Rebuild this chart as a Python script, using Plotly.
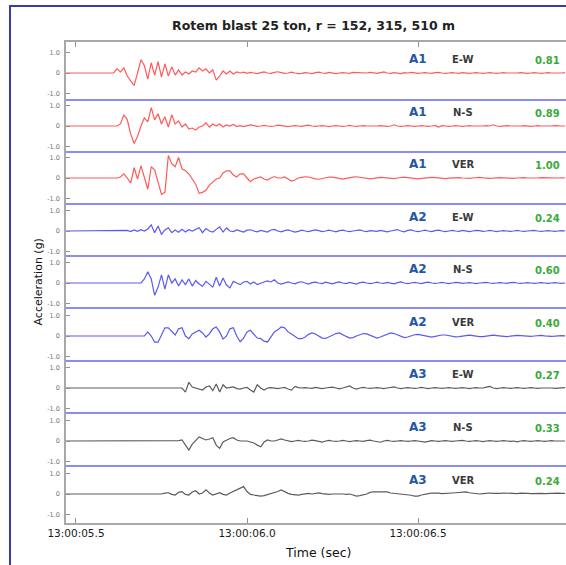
import plotly.graph_objects as go

# ---------------- data ----------------
t_start = 5.47
t_step = 0.01
n_samples = 147
sample_times = [round(t_start + t_step * i, 2) for i in range(n_samples)]

stations = ["A1", "A1", "A1", "A2", "A2", "A2", "A3", "A3", "A3"]
components = ["E-W", "N-S", "VER", "E-W", "N-S", "VER", "E-W", "N-S", "VER"]
peak_values = ["0.81", "0.89", "1.00", "0.24", "0.60", "0.40", "0.27", "0.33", "0.24"]
title_text = "Rotem blast 25 ton, r = 152, 315, 510 m"
y_tick_vals = [-1, 0, 1]
y_tick_text = ["-1.0", "0", "1.0"]

A1_EW = [0, 0, 0, 0, 0, 0, 0, 0, 0, 0, 0, 0, 0, 0, 0,
         0.2, 0.05, 0.25, -0.15, -0.4, -0.6, 0.0, 0.65, 0.35, -0.3, 0.5, -0.1, 0.55, -0.2, 0.45,
         -0.15, 0.3, -0.1, 0.15, -0.1, 0.05, -0.05, 0.1, 0.05, 0.25, 0.1, 0.2, 0.0, 0.15, -0.35,
         -0.15, 0.1, -0.05, 0.1, -0.05, 0.05,
         0.0, 0.04, -0.02, 0.03, 0.0, -0.03, 0.02, 0.05, 0.0, -0.02,
         0.03, 0.06, 0.02, -0.02, 0.0, 0.04, 0.0, -0.03, -0.02, 0.02,
         0.0, -0.03, 0.02, 0.04, 0.0, -0.02, 0.03, 0.0, -0.03, 0.0,
         0.02, 0.0, -0.02, 0.03, 0.02, 0.0, -0.02, 0.0, 0.03, 0.0,
         -0.02, 0.02, 0.05, 0.0, -0.02, 0.02, 0.0, -0.03, 0.02, 0.0,
         0.03, 0.0, -0.02, 0.0, 0.02, 0.0, -0.02, 0.02, 0.03, 0.0,
         -0.02, 0.0, 0.02, 0.0, -0.02, 0.02, 0.0, -0.02, 0.0, 0.02,
         0.0, -0.02, 0.0, 0.02, 0.0, -0.02, 0.0, 0.02, 0.0, 0.0,
         -0.02, 0.0, 0.02, 0.0, -0.02, 0.0, 0.02, 0.0, -0.02, 0.0,
         0.02, 0.0, 0.0, -0.02, 0.0, 0.02]

A1_NS = [0, 0, 0, 0, 0, 0, 0, 0, 0, 0, 0, 0, 0, 0, 0, 0,
         0.1, 0.55, 0.3, -0.4, -0.85, -0.5, 0.0, 0.4, 0.2, 0.9, 0.3, 0.6, 0.1, 0.45, -0.05,
         0.55, 0.1, 0.25, -0.05, 0.1, -0.15, -0.1, -0.2, -0.05, 0.0, 0.15, -0.05, 0.1, 0.0,
         0.1, -0.05, 0.05, 0.0, 0.08, -0.03,
         0.02, -0.03, 0.0, 0.05, 0.02, -0.02, 0.0, 0.03, 0.0, -0.02,
         0.0, 0.04, 0.02, 0.0, -0.03, 0.0, 0.02, 0.0, -0.02, 0.02,
         0.04, 0.0, -0.02, 0.0, 0.02, 0.0, -0.03, 0.0, 0.02, 0.0,
         -0.02, 0.0, 0.03, 0.0, -0.02, 0.0, 0.02, 0.0, 0.0, -0.02,
         0.0, 0.02, 0.0, -0.02, 0.0, 0.06, 0.0, -0.02, 0.0, 0.02,
         0.0, -0.02, 0.0, 0.02, 0.0, -0.02, 0.0, 0.03, -0.05, 0.02,
         0.0, -0.02, 0.0, 0.02, 0.0, -0.02, 0.0, 0.02, 0.0, 0.0,
         -0.02, 0.0, 0.02, 0.0, 0.06, 0.0, -0.02, 0.0, 0.02, 0.0,
         0.0, -0.02, 0.0, 0.02, 0.0, -0.02, 0.0, 0.02, 0.0, 0.0,
         -0.02, 0.0, 0.02, 0.0, 0.0, 0.0]

A1_VER = [0, 0, 0, 0, 0, 0, 0, 0, 0, 0, 0, 0, 0, 0, 0, 0,
          0.05, 0.2, 0.0, -0.25, 0.5, -0.05, 0.6, 0.0, -0.55, 0.55, 0.4, -0.2, -0.8, -0.7,
          1.1, 0.7, 0.55, 1.0, 0.45, 0.35, 0.2, -0.05, -0.3, -0.75, -0.7, -0.6, -0.35, -0.2,
          -0.05, 0.0, 0.25, 0.35, 0.35, 0.15, 0.05, 0.2, 0.2, 0.0, -0.18, -0.05, 0.0, 0.05,
          -0.05, -0.1, 0.0, 0.07, 0.0, 0.0, 0.05, -0.05, -0.15, -0.1, 0.0,
          0.03, 0.06, 0.05, 0.0, -0.04, -0.06, -0.03, 0.02, 0.05, 0.04,
          0.0, -0.03, -0.05, -0.02, 0.02, 0.04, 0.06, 0.03, 0.0, -0.03,
          -0.04, -0.02, 0.01, 0.03, 0.02, 0.0, -0.02, -0.03, 0.0, 0.03,
          0.04, 0.02, 0.0, -0.02, -0.04, -0.02, 0.0, 0.02, 0.03, 0.02,
          0.0, -0.02, -0.03, -0.01, 0.01, 0.02, 0.02, 0.0, -0.02, -0.02,
          0.0, 0.02, 0.03, 0.01, -0.01, -0.02, -0.01, 0.01, 0.02, 0.01,
          0.0, -0.02, -0.02, 0.0, 0.02, 0.02, 0.0, -0.01, -0.02, 0.0,
          0.02, 0.01, 0.0, -0.01, -0.01, 0.0, 0.01, 0.0]

A2_EW = [0, 0, 0, 0, 0, 0, 0, 0, 0, 0, 0, 0, 0, 0, 0, 0, 0, 0,
         0.03, -0.03, 0.05, -0.02, 0.06, 0.0, 0.1, 0.3, -0.08, 0.24, -0.16, 0.05, 0.16,
         -0.08, 0.05, -0.06, 0.08, -0.05, 0.06, 0.0, 0.1, 0.16, -0.08, 0.12, 0.0, -0.05,
         0.08, 0.2, -0.05, 0.15, 0.0, -0.03, 0.05,
         0.0, -0.05, 0.04, 0.06, 0.0, -0.04, 0.03, 0.0, -0.05, 0.05,
         0.08, 0.0, -0.04, 0.02, 0.05, 0.0, -0.05, -0.02, 0.04, 0.0,
         -0.03, 0.02, 0.05, 0.02, -0.03, 0.0, 0.04, 0.0, -0.04, 0.02,
         0.04, 0.0, -0.03, 0.0, 0.03, 0.05, 0.0, -0.03, 0.02, 0.0,
         -0.02, 0.03, 0.0, -0.04, 0.0, 0.05, 0.07, 0.0, -0.04, 0.03,
         0.05, 0.0, -0.03, 0.0, 0.04, 0.0, -0.03, 0.02, 0.04, 0.0,
         -0.03, 0.0, 0.03, 0.0, -0.02, 0.03, 0.0, -0.03, 0.0, 0.03,
         0.02, -0.02, 0.0, 0.03, 0.0, -0.03, 0.0, 0.02, 0.0, -0.02,
         0.0, 0.03, 0.0, -0.02, 0.0, 0.02, 0.03, 0.0, -0.02, 0.0,
         0.02, 0.0, -0.02, 0.0, 0.02, 0.0]

A2_NS = [0, 0, 0, 0, 0, 0, 0, 0, 0, 0, 0, 0, 0, 0, 0, 0, 0, 0, 0, 0, 0, 0,
         0.0, 0.2, 0.55, 0.2, -0.6, -0.2, 0.4, -0.3, 0.4, 0.0, 0.2, -0.15, 0.15, -0.08,
         0.2, -0.15, 0.12, -0.05, -0.16, 0.08, -0.05, -0.2, 0.28, -0.15, 0.24, -0.1, -0.24,
         0.08, 0.0, -0.08, 0.05, 0.08, -0.05, 0.05, -0.08, 0.0, 0.05, 0.1, 0.05, 0.16, 0.0, -0.05,
         0.02, 0.05, 0.0, -0.04, 0.03, 0.06, 0.0, -0.05, 0.02, 0.04,
         0.0, -0.03, 0.04, 0.0, -0.04, 0.02, 0.05, 0.0, -0.03, 0.03,
         0.0, -0.05, 0.02, 0.04, 0.0, -0.03, 0.0, 0.04, 0.0, -0.02,
         0.03, 0.0, -0.04, 0.02, 0.05, 0.0, -0.03, 0.0, 0.03, 0.0,
         -0.03, 0.02, 0.04, 0.0, -0.02, 0.0, 0.03, 0.0, -0.03, 0.0,
         0.03, 0.02, -0.02, 0.0, 0.02, 0.0, -0.03, 0.0, 0.02, 0.03,
         0.0, -0.02, 0.0, 0.02, 0.0, -0.02, 0.02, 0.03, 0.0, -0.02,
         0.0, 0.02, 0.0, -0.02, 0.0, 0.02, 0.0, -0.02, 0.0, 0.02,
         0.0, -0.02, 0.0]

A2_VER = [0, 0, 0, 0, 0, 0, 0, 0, 0, 0, 0, 0, 0, 0, 0, 0, 0, 0, 0, 0, 0, 0, 0,
          0.0, 0.2, 0.0, -0.3, -0.3, 0.05, 0.4, 0.4, 0.2, 0.05, 0.35, 0.4, 0.0, -0.13,
          0.1, 0.2, 0.28, 0.15, -0.05, 0.1, 0.35, 0.44, 0.2, -0.15, 0.0, 0.35, 0.4, 0.0,
          -0.28, -0.1, 0.2, 0.28, 0.1, -0.1, -0.13, -0.25, -0.29, -0.05, 0.2, 0.3, 0.44,
          0.4, 0.2, 0.1, 0.0, -0.13, -0.13, -0.05,
          0.08, 0.15, 0.1, 0.0, -0.1, -0.12, -0.05, 0.05, 0.12, 0.15,
          0.08, -0.02, -0.1, -0.08, 0.0, 0.08, 0.12, 0.1, 0.02, -0.06,
          -0.1, -0.05, 0.03, 0.1, 0.15, 0.12, 0.04, -0.04, -0.08, -0.05,
          0.02, 0.06, 0.08, 0.04, 0.0, -0.04, -0.05, -0.02, 0.02, 0.05,
          0.05, 0.02, -0.02, -0.04, -0.03, 0.0, 0.03, 0.04, 0.02, -0.01,
          -0.03, -0.03, 0.0, 0.03, 0.04, 0.02, 0.0, -0.02, -0.03, -0.01,
          0.02, 0.03, 0.02, 0.0, -0.02, -0.02, 0.0, 0.02, 0.03, 0.01,
          -0.01, -0.02, -0.01, 0.01, 0.02, 0.01]

A3_EW = [0, 0, 0, 0, 0, 0, 0, 0, 0, 0, 0, 0, 0, 0, 0, 0, 0, 0, 0, 0,
         0, 0, 0, 0, 0, 0, 0, 0, 0, 0, 0, 0, 0, 0,
         0.0, -0.2, 0.28, 0.05, 0.0, -0.05, -0.1, 0.05, 0.1, -0.13, 0.2, -0.2, 0.16, 0.0,
         0.03, 0.05, -0.03, -0.05, 0.0, 0.03, -0.1, -0.2, 0.16, 0.0, -0.1, 0.0, 0.02,
         0.0, -0.03, 0.0, 0.03, -0.05, -0.1, 0.08, 0.02, 0.0, 0.02,
         0.0, -0.02, 0.03, 0.0, -0.03, 0.0, 0.02, 0.04, 0.0, -0.04,
         0.0, 0.05, 0.1, 0.0, -0.05, 0.0, 0.03, 0.0, -0.02, 0.0,
         0.02, 0.0, -0.03, 0.0, 0.03, 0.05, 0.0, -0.03, 0.0, 0.02,
         0.0, -0.02, 0.0, 0.03, 0.0, -0.03, 0.0, 0.02, 0.0, -0.02,
         0.0, 0.02, 0.0, -0.02, 0.0, 0.02, 0.0, -0.03, 0.0, 0.02,
         0.0, 0.0, 0.04, 0.08, 0.0, -0.03, 0.0, 0.02, 0.0, -0.02,
         0.0, 0.02, 0.0, -0.02, 0.0, 0.02, 0.0, -0.02, 0.0, 0.0,
         0.02, 0.0, -0.02, 0.0, 0.0, 0.02]

A3_NS = [0, 0, 0, 0, 0, 0, 0, 0, 0, 0, 0, 0, 0, 0, 0, 0, 0, 0, 0, 0,
         0, 0, 0, 0, 0, 0, 0, 0, 0, 0, 0, 0,
         0.0, 0.02, 0.05, -0.2, -0.44, -0.15, 0.05, 0.2, 0.12, 0.05, 0.1, 0.16, -0.2, -0.36,
         -0.05, 0.05, 0.12, 0.16, 0.05, 0.0, 0.0, 0.0, -0.05, -0.1, -0.2, -0.28, -0.05, 0.05,
         0.0, 0.0, 0.05, 0.1, 0.05,
         0.0, -0.03, 0.0, 0.03, 0.0, -0.02, 0.0, 0.04, 0.02, -0.02,
         -0.05, 0.0, 0.03, 0.0, -0.02, 0.0, 0.03, 0.0, -0.03, 0.0,
         0.02, 0.0, -0.02, 0.02, 0.04, 0.0, -0.03, -0.06, 0.0, 0.03,
         0.0, -0.02, 0.0, 0.02, 0.0, -0.02, 0.0, 0.02, 0.0, -0.02,
         -0.05, -0.02, 0.02, 0.0, -0.02, 0.0, 0.02, 0.0, -0.02, 0.0,
         0.02, 0.03, 0.0, -0.02, 0.0, 0.02, 0.0, -0.03, 0.0, 0.02,
         0.0, -0.02, 0.0, 0.02, 0.0, -0.02, 0.0, -0.04, 0.0, 0.02,
         0.0, -0.02, 0.0, 0.02, 0.0, -0.02, 0.0, 0.02, 0.0, 0.0,
         -0.02, 0.0]

A3_VER = [0, 0, 0, 0, 0, 0, 0, 0, 0, 0, 0, 0, 0, 0, 0, 0, 0, 0, 0, 0,
          0, 0, 0, 0, 0, 0, 0, 0,
          0.0, 0.04, 0.06, -0.02, -0.05, 0.08, 0.11, -0.02, -0.05, 0.1, 0.16, 0.0, 0.05, 0.2,
          0.05, -0.05, 0.02, 0.06, -0.02, -0.05, 0.05, 0.12, 0.2, 0.3, 0.36, 0.12, -0.02,
          -0.05, -0.07, -0.1, -0.08, -0.03, 0.0, 0.05, 0.12, 0.2, 0.1, 0.03, -0.02, -0.05,
          -0.05, -0.02, 0.0, 0.03, 0.0, 0.04, 0.05, 0.02, 0.0, -0.02, 0.0, 0.0, 0.02, 0.0,
          -0.02, 0.0, -0.05, -0.1, -0.08, -0.05, 0.0, 0.08, 0.11, 0.1, 0.1, 0.11, 0.1, 0.05,
          0.03, 0.03, 0.02, 0.0, -0.03, -0.06, -0.1, -0.1, -0.05, 0.0, 0.02, 0.05, 0.06,
          0.04, 0.02, 0.02, 0.03, 0.05, 0.06, 0.08, 0.1, 0.1, 0.06, 0.03, 0.0, 0.0, 0.02,
          0.04, 0.05, 0.03, 0.02, 0.03, 0.05, 0.04, 0.02, 0.0, 0.02, 0.04, 0.05, 0.03, 0.02,
          0.03, 0.04, 0.03, 0.02, 0.03, 0.04, 0.05, 0.04, 0.03, 0.03]

series = [A1_EW, A1_NS, A1_VER, A2_EW, A2_NS, A2_VER, A3_EW, A3_NS, A3_VER]

# ---------------- style / layout ----------------
W, H = 566, 565
ML, MR, MT, MB = 66, 0, 42, 42
plot_h = H - MT - MB
plot_w = W - ML - MR
panel_edges_px = [42, 100, 152, 204, 256, 308, 361, 413, 466, 523]
baselines_px = [73, 126, 178, 231, 283, 336, 388, 441, 494]
px_per_unit = 20.5
line_colors = ["#ff5a5a"] * 3 + ["#5a5af0"] * 3 + ["#5c5c5c"] * 3
FONT = "DejaVu Sans"


def py(px):
    return (H - MB - px) / plot_h


def pxx(px):
    return (px - ML) / plot_w


def tstr(t):
    return "2000-01-01 13:00:%07.4f" % t


x_dates = [tstr(t) for t in sample_times]

fig = go.Figure()
layout = dict(
    width=W, height=H,
    margin=dict(l=ML, r=MR, t=MT, b=MB),
    paper_bgcolor="white", plot_bgcolor="white",
    showlegend=False,
    font=dict(family=FONT, color="#222"),
)

annotations = []
shapes = []
for i in range(9):
    n = i + 1
    yname = "y" if n == 1 else "y%d" % n
    ykey = "yaxis" if n == 1 else "yaxis%d" % n
    top, bot = panel_edges_px[i], panel_edges_px[i + 1]
    base = baselines_px[i]
    layout[ykey] = dict(
        domain=[py(bot), py(top)],
        range=[-(bot - base) / px_per_unit, (base - top) / px_per_unit],
        anchor="x",
        tickvals=y_tick_vals, ticktext=y_tick_text,
        ticks="inside", ticklen=4, tickwidth=1, tickcolor="#909090",
        tickfont=dict(size=6.5, color="#707070", family=FONT),
        ticklabelstandoff=3,
        showline=True, linecolor="#a8a8a8", linewidth=1.5,
        showgrid=False, zeroline=False, fixedrange=True,
    )
    fig.add_trace(go.Scatter(
        x=x_dates, y=series[i], mode="lines", xaxis="x", yaxis=yname,
        line=dict(color=line_colors[i], width=1.2), hoverinfo="skip",
    ))
    common = dict(xref="paper", yref=yname, showarrow=False,
                  xanchor="center", yanchor="middle")
    annotations += [
        dict(common, text="<b>%s</b>" % stations[i], x=pxx(418), y=0.66,
             font=dict(size=12, color="#2456a4", family=FONT)),
        dict(common, text="<b>%s</b>" % components[i], x=pxx(463), y=0.66,
             font=dict(size=10, color="#3a3a3a", family=FONT)),
        dict(common, text="<b>%s</b>" % peak_values[i], x=pxx(547), y=0.62,
             font=dict(size=10, color="#3aaa3a", family=FONT)),
    ]
    if n < 9:
        shapes.append(dict(type="line", xref="paper", yref="%s domain" % yname,
                           x0=0, x1=1, y0=0, y1=0,
                           line=dict(color="#8c8cf6", width=2.2)))

xcommon = dict(
    type="date",
    range=[tstr(5.4708), tstr(6.9327)],
    tick0=tstr(5.5), dtick=500, tickformat="%H:%M:%S.%1f",
    ticks="inside", ticklen=5, tickcolor="#909090",
    showgrid=False, zeroline=False, fixedrange=True,
    showline=True, linecolor="#a8a8a8", linewidth=1.5,
)
layout["xaxis"] = dict(xcommon, anchor="y9",
                       tickfont=dict(size=10.5, color="#1a1a1a", family=FONT))
layout["xaxis2"] = dict(xcommon, anchor="y", side="top", overlaying="x",
                        matches="x", showticklabels=False)
fig.add_trace(go.Scatter(x=[x_dates[0]], y=[0], xaxis="x2", yaxis="y", mode="lines",
                         line=dict(width=0), hoverinfo="skip", showlegend=False))

ann_common = dict(xref="paper", yref="paper", showarrow=False,
                  xanchor="center", yanchor="middle")
annotations += [
    dict(ann_common, text="<b>%s</b>" % title_text, x=pxx(313), y=py(25),
         font=dict(size=12.5, color="#222", family=FONT)),
    dict(ann_common, text="Time (sec)", x=pxx(318), y=py(552),
         font=dict(size=12.5, color="#111", family=FONT)),
    dict(ann_common, text="Acceleration (g)", x=pxx(38), y=0.5, textangle=-90,
         font=dict(size=11, color="#111", family=FONT)),
]
shapes.append(dict(type="rect", xref="paper", yref="paper",
                   x0=pxx(10), x1=pxx(620), y0=py(620), y1=py(6),
                   line=dict(color="#3b3bae", width=2), fillcolor="rgba(0,0,0,0)"))

layout["annotations"] = annotations
layout["shapes"] = shapes
fig.update_layout(**layout)

for name, s in zip(components, series):
    if len(s) != n_samples:
        print("length mismatch", name, len(s))

fig.write_html("out.html")
